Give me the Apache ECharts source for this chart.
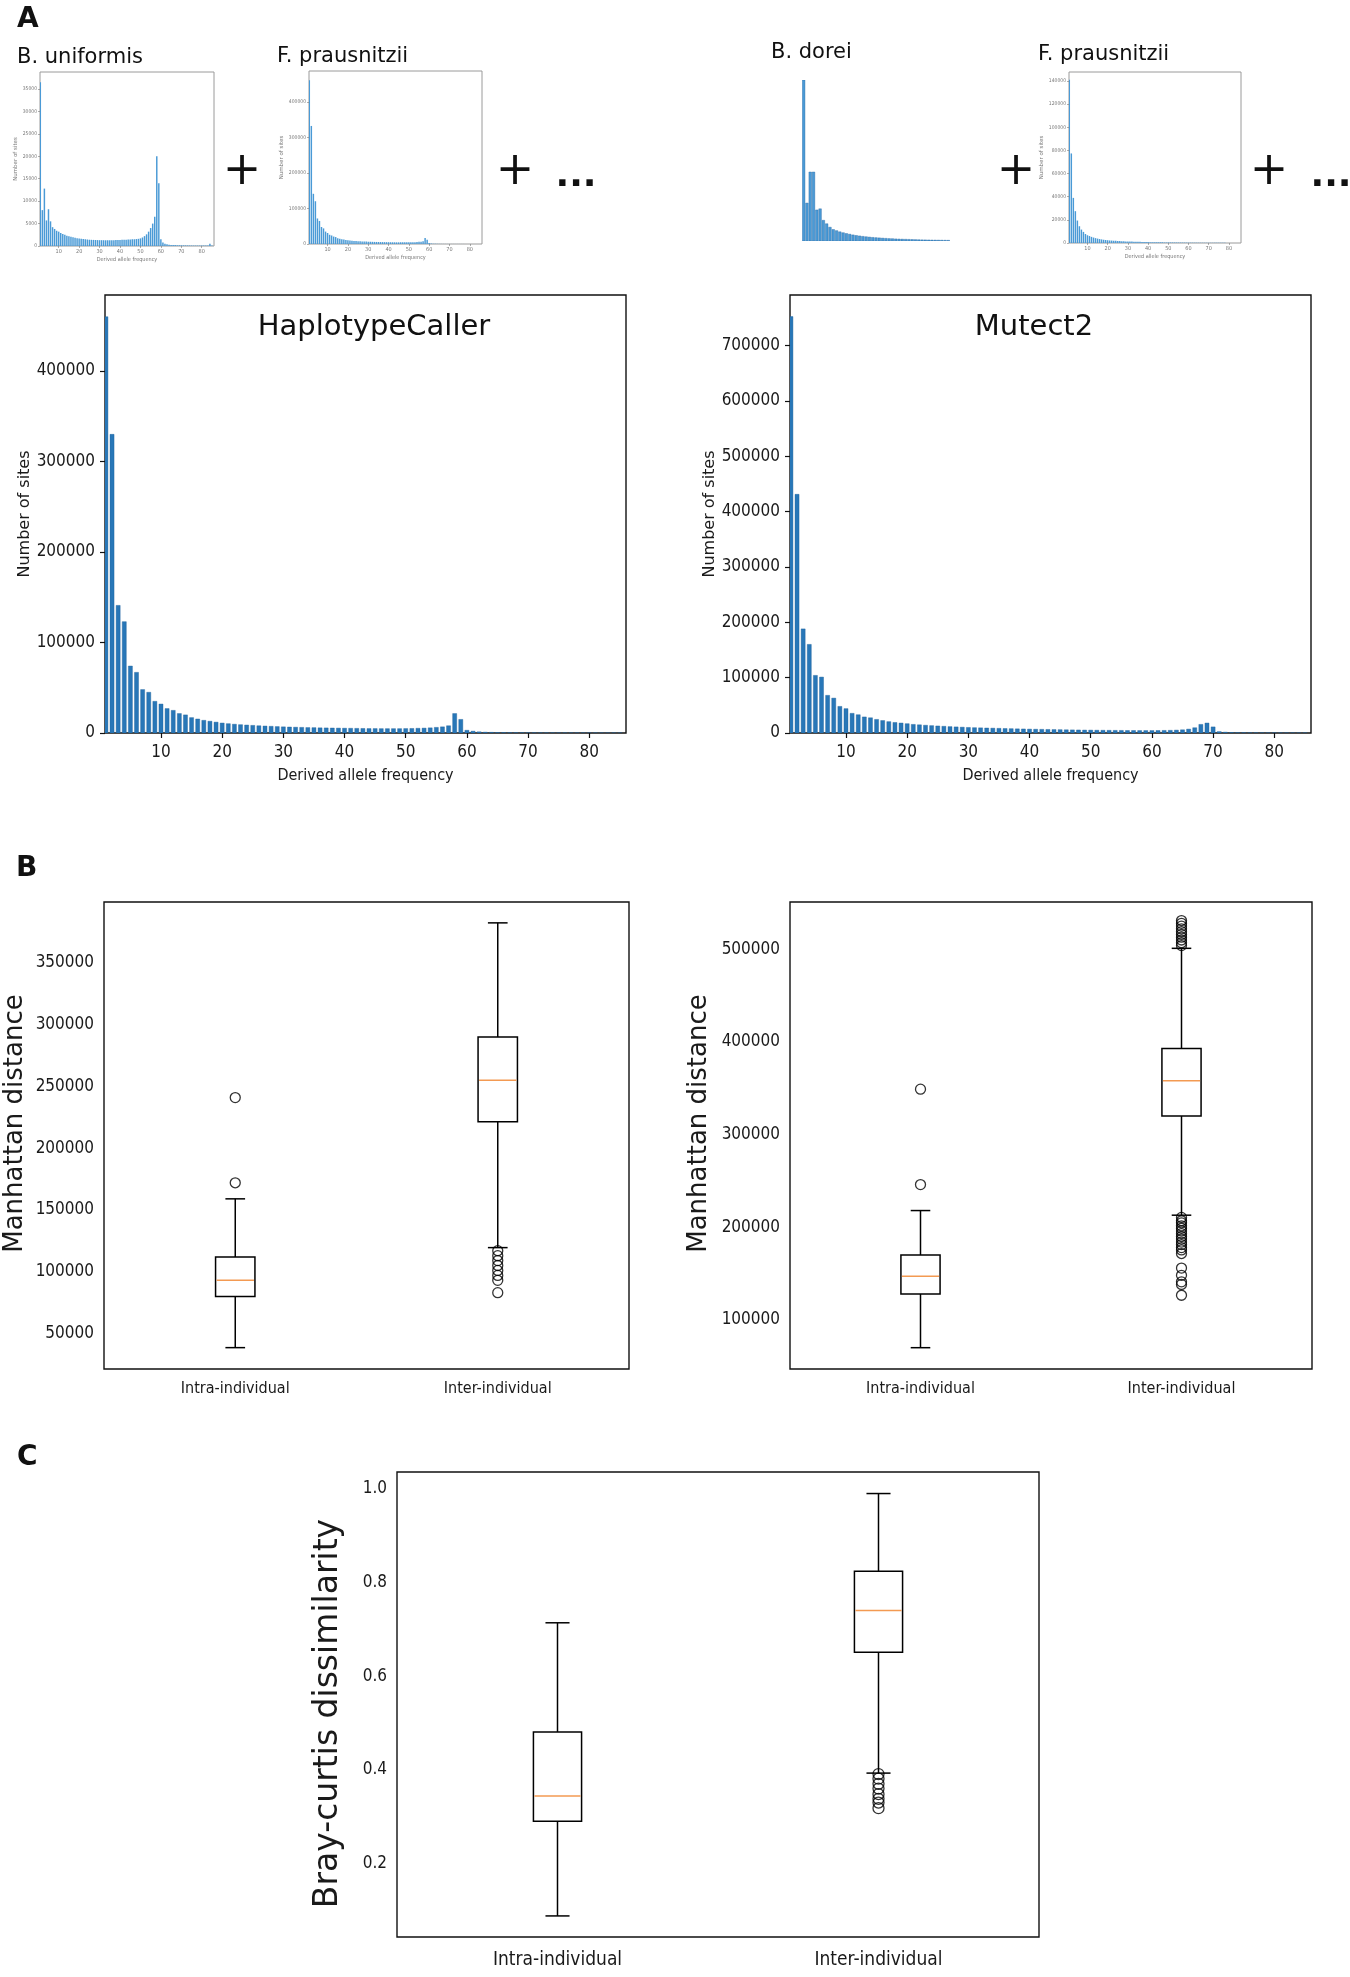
<!DOCTYPE html>
<html>
<head>
<meta charset="utf-8">
<script src="https://cdn.jsdelivr.net/npm/echarts/dist/echarts.min.js"></script>
<style>
html,body{margin:0;padding:0;background:#fff;}
#chart{width:1350px;height:1977px;}
</style>
</head>
<body>
<div id="chart"></div>
<script>
// ---------------- DATA ----------------
const dafTicks = [10, 20, 30, 40, 50, 60, 70, 80];

const hapCounts = [
 460000, 330000, 141000, 123000, 74000, 67000, 48000, 45000, 35000, 32000,
 27000, 25000, 21500, 20000, 17000, 15500, 14000, 13000, 12000, 11000,
 10300, 9700, 9200, 8800, 8400, 8000, 7700, 7400, 7100, 6800,
 6600, 6400, 6200, 6000, 5900, 5700, 5600, 5500, 5400, 5300,
 5200, 5100, 5000, 4900, 4900, 4800, 4800, 4800, 4800, 4900,
 5000, 5200, 5400, 5700, 6200, 6800, 8000, 21500, 15000, 3000,
 2000, 1300, 900, 700, 500, 400, 350, 300, 250, 200,
 180, 160, 150, 140, 130, 120, 110, 100, 100, 100,
 90, 90, 80, 80, 70
];
const mutCounts = [
 752000, 431000, 188000, 160000, 104000, 101000, 68000, 63000, 48000, 44000,
 35500, 33000, 29000, 27500, 24500, 22500, 20500, 19000, 18000, 16800,
 15500, 14800, 14000, 13300, 12700, 12100, 11500, 11000, 10500, 10000,
 9600, 9300, 9000, 8700, 8400, 8100, 7800, 7500, 7300, 7000,
 6800, 6600, 6400, 6200, 6000, 5800, 5600, 5500, 5300, 5200,
 5000, 4900, 4800, 4700, 4600, 4500, 4500, 4400, 4400, 4400,
 4500, 4600, 4800, 5200, 5800, 7000, 9500, 15500, 18000, 11000,
 2500, 1500, 900, 600, 500, 400, 350, 300, 280, 250,
 230, 210, 200, 190, 180
];
const uniformisCounts = [
 36500, 8000, 12800, 5700, 8200, 5500, 4200, 3800, 3400, 3200,
 2900, 2700, 2500, 2300, 2200, 2050, 1950, 1850, 1750, 1650,
 1600, 1550, 1500, 1450, 1400, 1380, 1360, 1340, 1320, 1300,
 1300, 1290, 1280, 1280, 1280, 1290, 1300, 1320, 1340, 1360,
 1380, 1400, 1420, 1440, 1460, 1480, 1500, 1550, 1600, 1700,
 1900, 2200, 2600, 3200, 4000, 5000, 6500, 20000, 14000, 1500,
 800, 500, 400, 300, 250, 220, 200, 180, 170, 160,
 150, 140, 130, 120, 110, 100, 100, 100, 100, 100,
 100, 100, 100, 500, 100
];
const prausACounts = [
 462000, 333000, 141600, 120600, 72000, 65000, 48000, 44000, 35000, 31000,
 26000, 24000, 21000, 19500, 16500, 15000, 13500, 12500, 11500, 10500,
 9800, 9300, 8800, 8400, 8000, 7700, 7400, 7100, 6800, 6500,
 6300, 6100, 5900, 5800, 5600, 5500, 5400, 5300, 5200, 5100,
 5000, 4900, 4800, 4700, 4700, 4600, 4600, 4600, 4600, 4700,
 4800, 5000, 5200, 5500, 6000, 6500, 7500, 17000, 12000, 2500,
 1500, 1000, 700, 500, 400, 300, 250, 200, 180, 160,
 150, 140, 130, 120, 110, 100, 100, 100, 100, 100,
 90, 90, 80, 80, 70
];
const doreiCounts = [
 140000, 33000, 60000, 60000, 27000, 28000, 18000, 15000, 12000, 10000,
 9000, 8000, 7200, 6500, 5900, 5300, 4800, 4400, 4000, 3700,
 3400, 3100, 2900, 2700, 2500, 2300, 2100, 2000, 1800, 1700,
 1600, 1500, 1400, 1300, 1200, 1100, 1000, 950, 900, 850,
 800, 750, 700, 650, 600
];
const prausBCounts = [
 141000, 77400, 39000, 27500, 19400, 14500, 11600, 9600, 7800, 6700,
 6000, 5300, 4700, 4200, 3800, 3400, 3100, 2800, 2600, 2400,
 2200, 2100, 2000, 1900, 1800, 1700, 1600, 1500, 1400, 1300,
 1250, 1200, 1150, 1100, 1050, 1000, 950, 900, 850, 800,
 750, 720, 690, 660, 630, 600, 570, 540, 520, 500,
 480, 460, 440, 420, 400, 380, 360, 340, 320, 300,
 280, 270, 260, 250, 240, 230, 220, 210, 200, 190,
 180, 170, 160, 150, 140, 130, 120, 110, 100, 100,
 100, 100, 100, 100, 100
];

const uniformisYTicks = [0, 5000, 10000, 15000, 20000, 25000, 30000, 35000];
const prausAYTicks = [0, 100000, 200000, 300000, 400000];
const prausBYTicks = [0, 20000, 40000, 60000, 80000, 100000, 120000, 140000];
const hapYTicks = [0, 100000, 200000, 300000, 400000];
const mutYTicks = [0, 100000, 200000, 300000, 400000, 500000, 600000, 700000];

const boxCategories = ['Intra-individual', 'Inter-individual'];
// [lower whisker, Q1, median, Q3, upper whisker]
const hapBox = [[38500, 80000, 93000, 112000, 159000], [119500, 221500, 255000, 290000, 382500]];
const hapOutIntra = [172000, 241000];
const hapOutInter = [117000, 113000, 109000, 105000, 101000, 97000, 93000, 83000];
const hapBoxYTicks = [50000, 100000, 150000, 200000, 250000, 300000, 350000];

const mutBox = [[70000, 128000, 147000, 170000, 218000], [213000, 320000, 358000, 393000, 501000]];
const mutOutIntra = [246000, 349000];
const mutOutInter = [504000, 507000, 510000, 513000, 516000, 519000, 522000, 525000, 528000, 531000,
  210600, 207000, 204800, 201500, 198900, 196000, 193100, 190000, 187200, 184000, 181300, 178000, 175500, 171600, 155900, 148100, 141100, 138300, 126600];
const mutBoxYTicks = [100000, 200000, 300000, 400000, 500000];

const bcBox = [[0.088, 0.290, 0.344, 0.481, 0.714], [0.393, 0.651, 0.740, 0.824, 0.990]];
const bcOutInter = [0.391, 0.381, 0.370, 0.360, 0.348, 0.338, 0.330, 0.318];
const bcYTicks = [0.2, 0.4, 0.6, 0.8, 1.0];

// ---------------- STYLE / LAYOUT ----------------
const FT = '"DejaVu Sans Condensed", "DejaVu Sans", sans-serif';
const FN = '"DejaVu Sans", sans-serif';
const TXT = '#1a1a1a';

const layout = [
  {left: 40, top: 72, width: 174, height: 174},    // 0 B. uniformis
  {left: 309, top: 71, width: 173, height: 173},   // 1 F. prausnitzii (left)
  {left: 802, top: 80, width: 148, height: 161},   // 2 B. dorei
  {left: 1069, top: 72, width: 172, height: 171},  // 3 F. prausnitzii (right)
  {left: 105, top: 295, width: 521, height: 438},  // 4 HaplotypeCaller
  {left: 790, top: 295, width: 521, height: 438},  // 5 Mutect2
  {left: 104, top: 902, width: 525, height: 467},  // 6 Manhattan HC
  {left: 790, top: 902, width: 522, height: 467},  // 7 Manhattan M2
  {left: 397, top: 1472, width: 642, height: 465}  // 8 Bray-curtis
];

const grids = layout.map((g, i) => Object.assign({}, g, {
  show: i !== 2,
  borderColor: i < 4 ? '#9a9a9a' : '#111',
  borderWidth: i < 4 ? 1 : 1.4,
  backgroundColor: 'rgba(0,0,0,0)',
  containLabel: false,
  outerBoundsMode: 'none'
}));

function histRender(fill, stroke, half, lw) {
  return function (params, api) {
    const k = api.value(0), v = api.value(1);
    const a = api.coord([k - half, v]);
    const b = api.coord([k + half, 0]);
    return {type: 'rect', shape: {x: a[0], y: a[1], width: b[0] - a[0], height: b[1] - a[1]},
      style: {fill: fill, stroke: stroke, lineWidth: lw}};
  };
}

function boxRender(medColor, lw) {
  return function (params, api) {
    const c = api.value(0);
    const lo = api.coord([c, api.value(1)]);
    const q1 = api.coord([c, api.value(2)]);
    const md = api.coord([c, api.value(3)]);
    const q3 = api.coord([c, api.value(4)]);
    const hi = api.coord([c, api.value(5)]);
    const band = api.size([1, 0])[0];
    const bw = band * 0.15, cw = bw / 2;
    const x = lo[0];
    const st = {stroke: '#000', lineWidth: lw, fill: null};
    return {type: 'group', children: [
      {type: 'line', shape: {x1: x, y1: q1[1], x2: x, y2: lo[1]}, style: st},
      {type: 'line', shape: {x1: x, y1: q3[1], x2: x, y2: hi[1]}, style: st},
      {type: 'line', shape: {x1: x - cw / 2, y1: lo[1], x2: x + cw / 2, y2: lo[1]}, style: st},
      {type: 'line', shape: {x1: x - cw / 2, y1: hi[1], x2: x + cw / 2, y2: hi[1]}, style: st},
      {type: 'rect', shape: {x: x - bw / 2, y: q3[1], width: bw, height: q1[1] - q3[1]},
        style: {stroke: '#000', lineWidth: lw, fill: '#fff'}},
      {type: 'line', shape: {x1: x - bw / 2 + 1, y1: md[1], x2: x + bw / 2 - 1, y2: md[1]},
        style: {stroke: medColor, lineWidth: lw}}
    ]};
  };
}

const plainFmt = v => String(Math.round(v));

function smallX(gi) {
  return {type: 'value', gridIndex: gi, min: 0.85, max: 86,
    axisLine: {show: false}, splitLine: {show: false},
    axisTick: {customValues: dafTicks, length: 2, lineStyle: {color: '#777', width: 0.6}},
    axisLabel: {customValues: dafTicks, fontSize: 5.5, color: '#777', margin: 3, fontFamily: FT},
    name: 'Derived allele frequency', nameLocation: 'middle', nameGap: 11,
    nameTextStyle: {fontSize: 5.5, color: '#777', fontFamily: FT}};
}
function smallY(gi, max, ticks) {
  return {type: 'value', gridIndex: gi, min: 0, max: max,
    axisLine: {show: false}, splitLine: {show: false},
    axisTick: {customValues: ticks, length: 2, lineStyle: {color: '#777', width: 0.6}},
    axisLabel: {customValues: ticks, fontSize: 5, color: '#777', margin: 3, fontFamily: FT, formatter: plainFmt},
    name: 'Number of sites', nameLocation: 'middle', nameGap: 20,
    nameTextStyle: {fontSize: 5.5, color: '#777', fontFamily: FN}};
}
function mainHistX(gi) {
  return {type: 'value', gridIndex: gi, min: 0.85, max: 86,
    axisLine: {show: false}, splitLine: {show: false},
    axisTick: {customValues: dafTicks, length: 5, lineStyle: {color: '#111', width: 1.2}},
    axisLabel: {customValues: dafTicks, fontSize: 17, color: TXT, margin: 11, fontFamily: FT},
    name: 'Derived allele frequency', nameLocation: 'middle', nameGap: 35,
    nameTextStyle: {fontSize: 16, color: TXT, fontFamily: FT}};
}
function mainHistY(gi, max, ticks, gap) {
  return {type: 'value', gridIndex: gi, min: 0, max: max,
    axisLine: {show: false}, splitLine: {show: false},
    axisTick: {customValues: ticks, length: 5, lineStyle: {color: '#111', width: 1.2}},
    axisLabel: {customValues: ticks, fontSize: 17, color: TXT, margin: 10, fontFamily: FT, formatter: plainFmt},
    name: 'Number of sites', nameLocation: 'middle', nameGap: gap,
    nameTextStyle: {fontSize: 16, color: TXT, fontFamily: FN}};
}
function boxX(gi, fs, margin) {
  return {type: 'category', gridIndex: gi, data: boxCategories, boundaryGap: true,
    axisLine: {show: false}, splitLine: {show: false},
    axisTick: {alignWithLabel: true, length: 5, lineStyle: {color: '#111', width: 1.2}},
    axisLabel: {fontSize: fs, color: TXT, margin: margin, fontFamily: FT, interval: 0}};
}
function boxY(gi, min, max, ticks, name, nameSize, gap, fmt, pad) {
  return {type: 'value', gridIndex: gi, min: min, max: max,
    axisLine: {show: false}, splitLine: {show: false},
    axisTick: {customValues: ticks, length: 5, lineStyle: {color: '#111', width: 1.2}},
    axisLabel: {customValues: ticks, fontSize: 17, color: TXT, margin: 10, fontFamily: FT, formatter: fmt},
    name: name, nameLocation: 'middle', nameGap: gap,
    nameTextStyle: {fontSize: nameSize, color: TXT, fontFamily: FN, padding: pad}};
}

const xAxes = [
  smallX(0), smallX(1),
  {type: 'value', gridIndex: 2, min: 0.5, max: doreiCounts.length + 0.5, show: false},
  smallX(3),
  mainHistX(4), mainHistX(5),
  boxX(6, 16, 12), boxX(7, 16, 12), boxX(8, 19, 14)
];
const yAxes = [
  smallY(0, 38800, uniformisYTicks),
  smallY(1, 488000, prausAYTicks),
  {type: 'value', gridIndex: 2, min: 0, max: doreiCounts[0], show: false},
  smallY(3, 147800, prausBYTicks),
  mainHistY(4, 484000, hapYTicks, 71),
  mainHistY(5, 791000, mutYTicks, 69),
  boxY(6, 21200, 399400, hapBoxYTicks, 'Manhattan distance', 26, 76, plainFmt, [0, 0, 0, 24]),
  boxY(7, 47000, 551000, mutBoxYTicks, 'Manhattan distance', 26, 78, plainFmt, [0, 0, 0, 24]),
  boxY(8, 0.043, 1.036, bcYTicks, 'Bray-curtis dissimilarity', 33, 52, v => v.toFixed(1), [0, 18, 0, 0])
];

const toBins = arr => arr.map((v, i) => [i + 1, v]);
function hist(gi, arr, fill, stroke, half, lw) {
  return {type: 'custom', xAxisIndex: gi, yAxisIndex: gi, clip: true, silent: true,
    renderItem: histRender(fill, stroke, half, lw), encode: {x: 0, y: 1}, data: toBins(arr)};
}
function boxes(gi, stats, med, lw) {
  return {type: 'custom', xAxisIndex: gi, yAxisIndex: gi, silent: true,
    renderItem: boxRender(med, lw), encode: {x: 0, y: 1},
    data: stats.map((s, i) => [i].concat(s))};
}
function outliers(gi, intra, inter, size) {
  return {type: 'scatter', xAxisIndex: gi, yAxisIndex: gi, silent: true,
    symbol: 'circle', symbolSize: size,
    itemStyle: {color: 'rgba(0,0,0,0)', borderColor: '#000', borderWidth: 1.3},
    data: intra.map(v => [0, v]).concat(inter.map(v => [1, v]))};
}

const SMALL_FILL = '#4a9ad6', SMALL_STROKE = '#2a6aa5';
const MAIN_FILL = '#2877b8', MAIN_STROKE = '#1d5f99';
const MED = '#f39a52';

const series = [
  hist(0, uniformisCounts, SMALL_FILL, null, 0.36, 0),
  hist(1, prausACounts, SMALL_FILL, null, 0.36, 0),
  hist(2, doreiCounts, SMALL_FILL, SMALL_STROKE, 0.4, 0.4),
  hist(3, prausBCounts, SMALL_FILL, null, 0.36, 0),
  hist(4, hapCounts, MAIN_FILL, MAIN_STROKE, 0.33, 0.4),
  hist(5, mutCounts, MAIN_FILL, MAIN_STROKE, 0.33, 0.4),
  boxes(6, hapBox, MED, 1.5),
  outliers(6, hapOutIntra, hapOutInter, 10),
  boxes(7, mutBox, MED, 1.5),
  outliers(7, mutOutIntra, mutOutInter, 10),
  boxes(8, bcBox, MED, 1.5),
  outliers(8, [], bcOutInter, 11)
];

function txt(text, x, y, size, opts) {
  opts = opts || {};
  return {type: 'text', silent: true, x: x, y: y, style: {
    text: text, fontSize: size, fontFamily: opts.family || FN, fontWeight: opts.weight || 'normal',
    fill: opts.color || '#111', align: opts.align || 'left', verticalAlign: opts.valign || 'middle'}};
}

const graphic = [
  txt('A', 17, 20, 28, {weight: 'bold'}),
  txt('B', 16, 869, 28, {weight: 'bold'}),
  txt('C', 17, 1458, 28, {weight: 'bold'}),
  txt('B. uniformis', 17, 58, 21),
  txt('F. prausnitzii', 277, 57, 21),
  txt('B. dorei', 771, 53, 21),
  txt('F. prausnitzii', 1038, 55, 21),
  txt('+', 242, 172, 46, {align: 'center'}),
  txt('+', 515, 172, 46, {align: 'center'}),
  txt('+', 1016, 172, 46, {align: 'center'}),
  txt('+', 1269, 172, 46, {align: 'center'}),
  txt('...', 576, 195, 36, {align: 'center', weight: 'bold', valign: 'bottom'}),
  txt('...', 1331, 195, 36, {align: 'center', weight: 'bold', valign: 'bottom'}),
  txt('HaplotypeCaller', 374, 327, 29, {align: 'center'}),
  txt('Mutect2', 1034, 327, 29, {align: 'center'})
];

const chart = echarts.init(document.getElementById('chart'), null, {renderer: 'canvas'});
chart.setOption({
  animation: false,
  backgroundColor: '#fff',
  grid: grids,
  xAxis: xAxes,
  yAxis: yAxes,
  series: series,
  graphic: graphic
});
</script>
</body>
</html>
